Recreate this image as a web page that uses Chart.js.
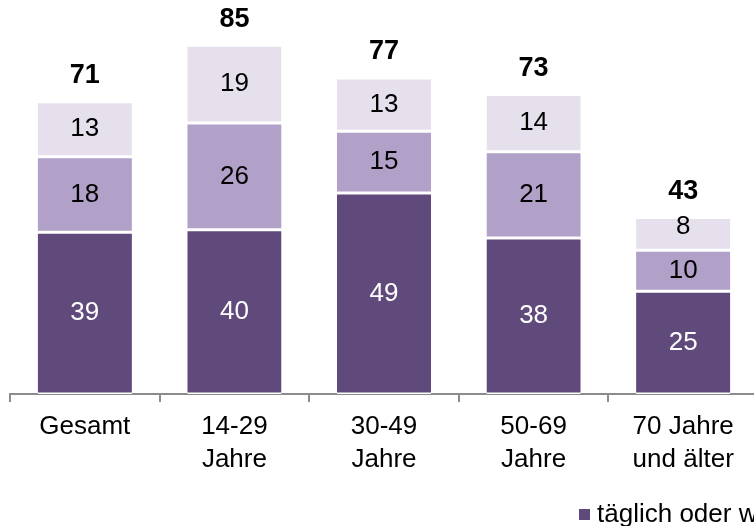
<!DOCTYPE html>
<html>
<head>
<meta charset="utf-8">
<script src="https://cdn.jsdelivr.net/npm/chart.js@4/dist/chart.umd.min.js"></script>
<style>
  html, body { margin: 0; padding: 0; background: #fff; overflow: hidden; }
  #wrap { width: 760px; height: 526px; }
</style>
</head>
<body>
<div id="wrap"><canvas id="chart"></canvas></div>
<script>
const kategorien = ["Gesamt", ["14-29", "Jahre"], ["30-49", "Jahre"], ["50-69", "Jahre"], ["70 Jahre", "und älter"]];
const taeglich = [39.4, 40, 49, 38, 25];
const monatlich = [18.4, 26, 15, 21, 10];
const seltener = [13.4, 19, 13, 14, 8];
const gesamt = [71, 85, 77, 73, 43];
const serienNamen = ["täglich oder wöchentlich", "mindestens einmal im Monat", "seltener"];

const farben = ["#5f4a7b", "#b1a0c7", "#e5e0ec"];
const textFarben = ["#ffffff", "#000000", "#000000"];
const schrift = "'Liberation Sans', Arial, sans-serif";

// Werte in die Balken schreiben + Summe oben
const wertePlugin = {
    id: "werte",
    afterDatasetsDraw(chart) {
        const ctx = chart.ctx;
        ctx.save();
        ctx.textAlign = "center";
        ctx.textBaseline = "middle";
        chart.data.datasets.forEach((ds, i) => {
            const meta = chart.getDatasetMeta(i);
            meta.data.forEach((bar, j) => {
                const p = bar.getProps(["x", "y", "base"], true);
                ctx.font = "26px " + schrift;
                ctx.fillStyle = textFarben[i];
                let y = (p.y + p.base) / 2;
                if (Math.abs(p.base - p.y) < 36) y -= 7;
                ctx.fillText(Math.round(ds.data[j]), p.x, y);
            });
        });
        const last = chart.getDatasetMeta(chart.data.datasets.length - 1);
        last.data.forEach((bar, j) => {
            ctx.font = "bold 27px " + schrift;
            ctx.fillStyle = "#000";
            ctx.fillText(gesamt[j], bar.x, bar.y - 26);
        });
        ctx.restore();
    }
};

// Legende unten rechts (läuft über den Rand hinaus)
const legendePlugin = {
    id: "legende",
    afterDraw(chart) {
        const ctx = chart.ctx;
        ctx.save();
        ctx.font = "26px " + schrift;
        ctx.textBaseline = "middle";
        let x = 579;
        const y = 514;
        chart.data.datasets.forEach((ds, i) => {
            ctx.fillStyle = farben[i];
            ctx.fillRect(x, y - 5, 11, 11);
            ctx.fillStyle = "#000";
            ctx.fillText(ds.label, x + 18, y + 1);
            x += 18 + ctx.measureText(ds.label).width + 30;
        });
        ctx.restore();
    }
};

new Chart(document.getElementById("chart"), {
    type: "bar",
    data: {
        labels: kategorien,
        datasets: [
            { label: serienNamen[0], data: taeglich, backgroundColor: farben[0] },
            { label: serienNamen[1], data: monatlich, backgroundColor: farben[1] },
            { label: serienNamen[2], data: seltener, backgroundColor: farben[2] }
        ].map(d => Object.assign(d, {
            borderColor: "#ffffff",
            borderWidth: { top: 1.5, bottom: 1.5, left: 0, right: 0 },
            borderSkipped: false,
            barPercentage: 0.63,
            categoryPercentage: 1
        }))
    },
    options: {
        responsive: true,
        maintainAspectRatio: false,
        animation: false,
        layout: { padding: { left: 10, right: 2, top: 0, bottom: 42 } },
        plugins: {
            legend: { display: false },
            tooltip: { enabled: false }
        },
        scales: {
            x: {
                stacked: true,
                offset: true,
                border: { color: "#8c8c8c", width: 2 },
                grid: { offset: true, drawOnChartArea: false, color: "#8c8c8c", lineWidth: 2, tickLength: 8 },
                ticks: {
                    color: "#000",
                    padding: 8,
                    maxRotation: 0,
                    font: { family: schrift, size: 26, lineHeight: 1.27 }
                }
            },
            y: {
                stacked: true,
                display: false,
                min: 0,
                max: 96
            }
        }
    },
    plugins: [wertePlugin, legendePlugin]
});
</script>
</body>
</html>
